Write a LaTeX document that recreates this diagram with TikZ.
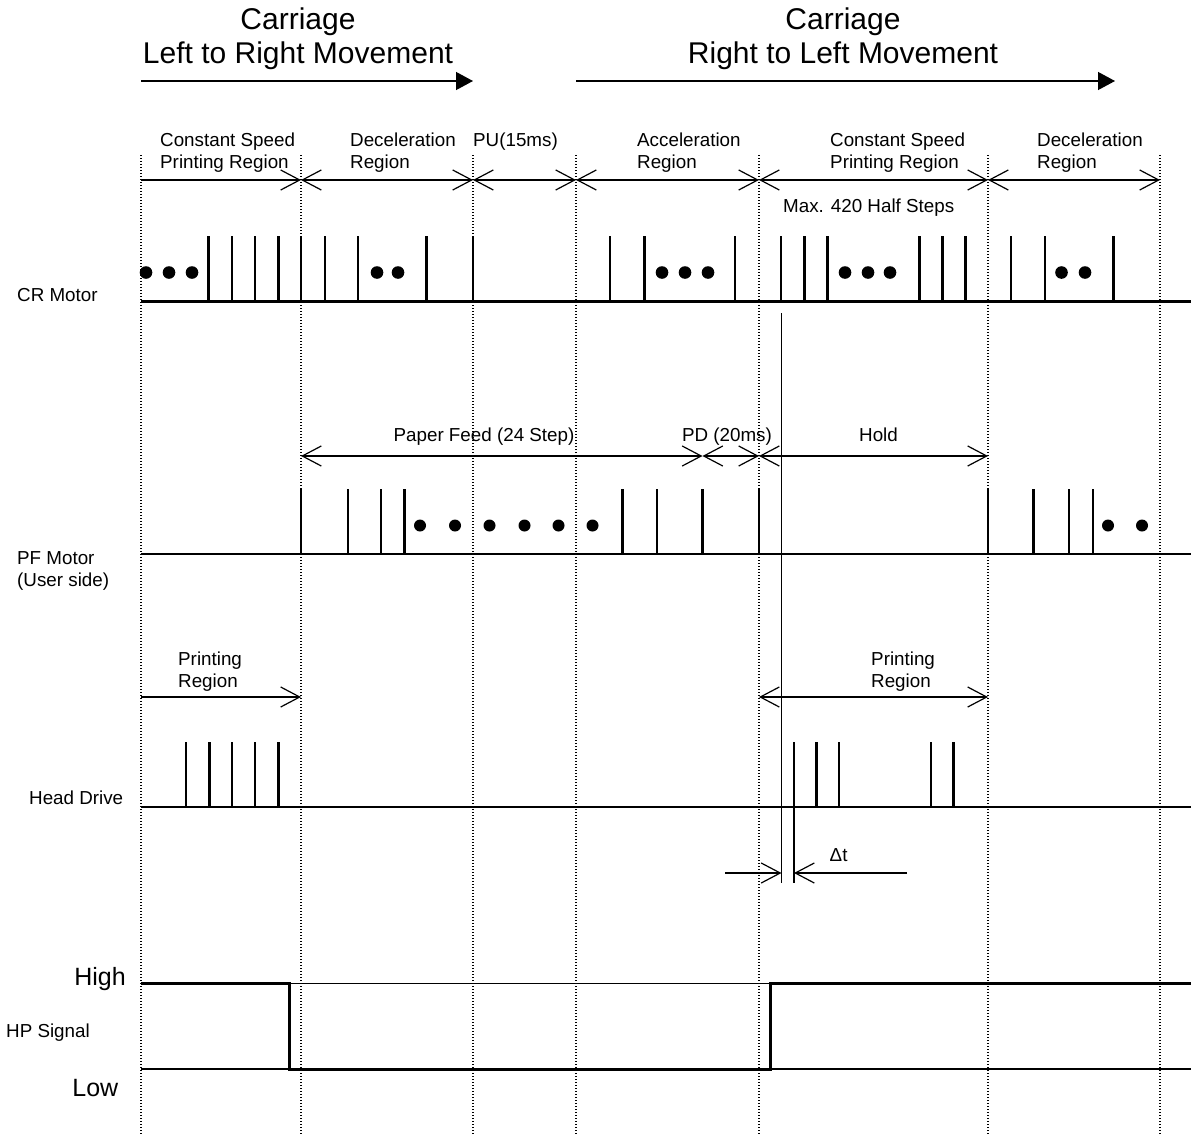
\documentclass[tikz,border=0pt]{standalone}
\usepackage{fontspec}
\setmainfont{Liberation Sans}
\usetikzlibrary{arrows.meta}
\begin{document}
\begin{tikzpicture}[x=1pt,y=-1pt,
  lbl/.style={inner sep=0pt, font=\fontsize{18.8}{22}\selectfont},
  big/.style={inner sep=0pt, font=\fontsize{30}{34.5}\selectfont},
  lvl/.style={inner sep=0pt, font=\fontsize{25}{30}\selectfont},
  gridline/.style={line width=1.1pt, dash pattern=on 1.1pt off 1.9pt},
  baseline/.style={line width=2.8pt},
  pulse/.style={line width=2.3pt},
  thin/.style={line width=1.2pt},
  reg/.style={line width=1.2pt, arrows={Straight Barb[length=19pt,width=20pt]-Straight Barb[length=19pt,width=20pt]}},
  regR/.style={line width=1.2pt, arrows={-Straight Barb[length=19pt,width=20pt]}},
  move/.style={line width=1.3pt, arrows={-Triangle[length=17pt,width=18pt]}},
  dot/.style={fill=black, draw=none}
]
\useasboundingbox (0,0) rectangle (1191,1135);

% vertical dotted time markers
\foreach \gx in {141,301,473,576,759,988,1160}
  \draw[gridline] (\gx,155) -- (\gx,1135);

% ---------- headings ----------
\node[big, anchor=base] (h1) at (298,29) {\begin{tabular}[t]{@{}c@{}}Carriage\\Left to Right Movement\end{tabular}};
\node[big, anchor=base] (h2) at (843,29) {\begin{tabular}[t]{@{}c@{}}Carriage\\Right to Left Movement\end{tabular}};
\coordinate (m1s) at (141,81); \coordinate (m1e) at (473,81);
\coordinate (m2s) at (576,81); \coordinate (m2e) at (1115,81);
\draw[move] (m1s) -- (m1e);
\draw[move] (m2s) -- (m2e);

% ---------- region labels ----------
\node[lbl, anchor=base west] (t1) at (160,146.7) {\begin{tabular}[t]{@{}l@{}}Constant Speed\\Printing Region\end{tabular}};
\node[lbl, anchor=base west] (t2) at (350,146.7) {\begin{tabular}[t]{@{}l@{}}Deceleration\\Region\end{tabular}};
\node[lbl, anchor=base west] (t3) at (473,146.7) {PU(15ms)};
\node[lbl, anchor=base west] (t4) at (637,146.7) {\begin{tabular}[t]{@{}l@{}}Acceleration\\Region\end{tabular}};
\node[lbl, anchor=base west] (t5) at (830,146.7) {\begin{tabular}[t]{@{}l@{}}Constant Speed\\Printing Region\end{tabular}};
\node[lbl, anchor=base west] (t6) at (1037,146.7) {\begin{tabular}[t]{@{}l@{}}Deceleration\\Region\end{tabular}};
\node[lbl, anchor=base west] (t7) at (783,212.7) {Max. 420 Half Steps};

\coordinate (r0) at (141,180); \coordinate (r1) at (301,180);
\coordinate (r2) at (473,180); \coordinate (r3) at (576,180);
\coordinate (r4) at (759,180); \coordinate (r5) at (988,180);
\coordinate (r6) at (1160,180);
\draw[regR] (r0) -- (r1);
\draw[reg] (r1) -- (r2);
\draw[reg] (r2) -- (r3);
\draw[reg] (r3) -- (r4);
\draw[reg] (r4) -- (r5);
\draw[reg] (r5) -- (r6);

% ---------- CR Motor ----------
\node[lbl, anchor=base west] (crl) at (17,301.5) {CR Motor};
\coordinate (crs) at (141,301.5); \coordinate (cre) at (1191,301.5);
\foreach \px in {208.5,232,255,278.5,301,325,358,426.5,473,610,644.5,735,781,804.5,827.5,919.5,942.5,965.5,1011,1045,1113.5}
  \draw[pulse] (\px,301.5) -- (\px,236);
\draw[baseline] (crs) -- (cre);
\foreach \px in {146,169,192,377,398,662,685,708,845,868,890,1061.5,1085}
  \fill[dot] (\px,272.5) circle (6.3);

% ---------- PF Motor ----------
\node[lbl, anchor=base west] (pfl) at (17,564) {\begin{tabular}[t]{@{}l@{}}PF Motor\\(User side)\end{tabular}};
\node[lbl, anchor=base] (pf1) at (484,441.5) {Paper Feed (24 Step)};
\node[lbl, anchor=base] (pf2) at (727,441.5) {PD (20ms)};
\node[lbl, anchor=base] (pf3) at (878.5,441.5) {Hold};
\coordinate (p0) at (301,456); \coordinate (p1) at (702.5,456);
\coordinate (p2) at (759,456); \coordinate (p3) at (988,456);
\draw[reg] (p0) -- (p1);
\draw[reg] (p1) -- (p2);
\draw[reg] (p2) -- (p3);
\coordinate (pfs) at (141,554); \coordinate (pfe) at (1191,554);
\foreach \px in {301,348,381,404.5,622.5,657,702.5,759,988,1033.5,1069,1093}
  \draw[pulse] (\px,554) -- (\px,489);
\draw[baseline] (pfs) -- (pfe);
\foreach \px in {420,455,489.5,524.5,558.5,592.5,1108,1142}
  \fill[dot] (\px,525.5) circle (6);

% ---------- Head Drive ----------
\node[lbl, anchor=base west] (hdl) at (29,804) {Head Drive};
\node[lbl, anchor=base west] (pr1) at (178,665) {\begin{tabular}[t]{@{}l@{}}Printing\\Region\end{tabular}};
\node[lbl, anchor=base west] (pr2) at (871,665) {\begin{tabular}[t]{@{}l@{}}Printing\\Region\end{tabular}};
\coordinate (q0) at (141,697); \coordinate (q1) at (301,697);
\coordinate (q2) at (759,697); \coordinate (q3) at (988,697);
\draw[regR] (q0) -- (q1);
\draw[reg] (q2) -- (q3);
\coordinate (hds) at (141,807); \coordinate (hde) at (1191,807);
\foreach \px in {186,209.5,232,255,278.5,794,816.5,839,931,953.5}
  \draw[pulse] (\px,807) -- (\px,742);
\draw[baseline] (hds) -- (hde);

% ---------- delta t ----------
\coordinate (v1t) at (781.5,313); \coordinate (v1b) at (781.5,883);
\coordinate (v2t) at (794,807); \coordinate (v2b) at (794,883);
\draw[thin] (v1t) -- (v1b);
\draw[thin] (v2t) -- (v2b);
\coordinate (d0) at (725,873); \coordinate (d1) at (781.5,873);
\coordinate (d2) at (907,873); \coordinate (d3) at (794,873);
\draw[regR] (d0) -- (d1);
\draw[regR] (d2) -- (d3);
\node[lbl, anchor=base west] (dt) at (829.5,861.5) {Δt};

% ---------- HP Signal ----------
\node[lvl, anchor=base east] (hi) at (126,985.5) {High};
\node[lvl, anchor=base east] (lo) at (118.5,1096) {Low};
\node[lbl, anchor=base west] (hpl) at (6,1037) {HP Signal};
\coordinate (hs) at (141,983.5); \coordinate (he) at (1191,983.5);
\coordinate (ls) at (141,1069); \coordinate (le) at (1191,1069);
\draw[thin] (hs) -- (he);
\draw[thin] (ls) -- (le);
\draw[line width=3pt] (141,983.5) -- (289,983.5) -- (289,1069) -- (770,1069) -- (770,983.5) -- (1191,983.5);
\end{tikzpicture}
\end{document}
